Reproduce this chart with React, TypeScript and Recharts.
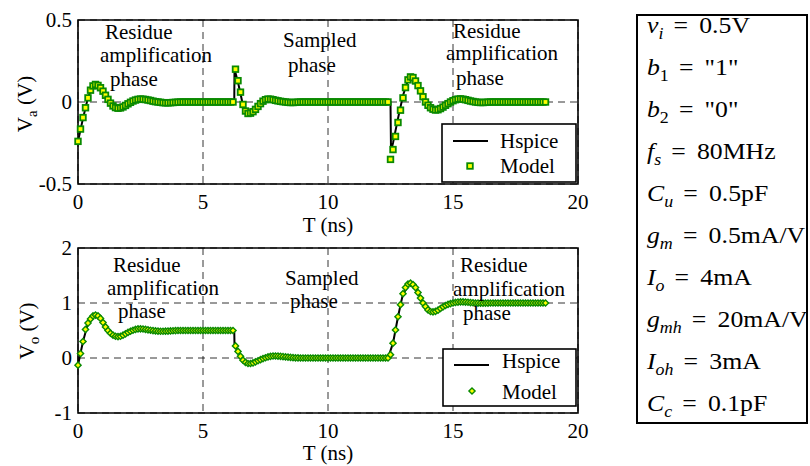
import React from 'react';
import { CartesianGrid, ComposedChart, Line, ReferenceArea, Scatter, XAxis, YAxis } from 'recharts';

const GREEN = '#0a8a00';
const YELLOW = '#ffff00';
const FONT = '"Liberation Serif", "Times New Roman", serif';

// model samples every 0.1 ns from t = 0 to 18.7 ns
const T_STEP = 0.1;

const VA_MODEL = [
  -0.24, -0.165, -0.095, -0.035, 0.025, 0.072, 0.098, 0.107, 0.101, 0.087,
  0.066, 0.041, 0.016, -0.007, -0.024, -0.034, -0.038, -0.036, -0.03, -0.021,
  -0.011, -0.002, 0.006, 0.012, 0.016, 0.018, 0.017, 0.015, 0.012, 0.009,
  0.005, 0.002, 0, -0.002, -0.004, -0.005, -0.005, -0.004, -0.003, -0.002,
  -0.001, 0, 0, 0, 0, 0, 0, 0, 0, 0,
  0, 0, 0, 0, 0, 0, 0, 0, 0, 0,
  0, 0, 0,
  0.2, 0.13, 0.06, -0.015, -0.055, -0.07, -0.068, -0.059, -0.045, -0.027,
  -0.01, 0.005, 0.014, 0.018, 0.017, 0.014, 0.01, 0.007, 0.004, 0.002,
  0, -0.002, -0.003, -0.003, -0.002, -0.001, 0, 0, 0, 0,
  0, 0, 0, 0, 0, 0, 0, 0, 0, 0,
  0, 0, 0, 0, 0, 0, 0, 0, 0, 0,
  0, 0, 0, 0, 0, 0, 0, 0, 0, 0,
  0, 0,
  -0.35, -0.29, -0.21, -0.125, -0.05, 0.025, 0.088, 0.135, 0.153, 0.149,
  0.128, 0.1, 0.068, 0.032, 0, -0.02, -0.035, -0.044, -0.049, -0.047,
  -0.04, -0.031, -0.02, -0.01, 0, 0.008, 0.014, 0.018, 0.019, 0.017,
  0.014, 0.01, 0.006, 0.003, 0, -0.002, -0.003, -0.003, -0.002, -0.001,
  0, 0, 0, 0, 0, 0, 0, 0, 0, 0,
  0, 0, 0, 0, 0, 0, 0, 0, 0, 0,
  0, 0, 0,
];

const VO_MODEL = [
  -0.13, 0.08, 0.3, 0.52, 0.635, 0.71, 0.765, 0.78, 0.765, 0.72,
  0.645, 0.565, 0.5, 0.45, 0.415, 0.395, 0.39, 0.395, 0.415, 0.44,
  0.465, 0.487, 0.505, 0.52, 0.528, 0.53, 0.527, 0.52, 0.512, 0.505,
  0.498, 0.492, 0.488, 0.486, 0.486, 0.488, 0.49, 0.493, 0.496, 0.498,
  0.5, 0.5, 0.5, 0.5, 0.5, 0.5, 0.5, 0.5, 0.5, 0.5,
  0.5, 0.5, 0.5, 0.5, 0.5, 0.5, 0.5, 0.5, 0.5, 0.5,
  0.5, 0.5, 0.5,
  0.22, 0.12, 0.03, -0.04, -0.08, -0.1, -0.1, -0.09, -0.07, -0.05,
  -0.03, -0.01, 0.005, 0.02, 0.03, 0.036, 0.036, 0.034, 0.03, 0.025,
  0.02, 0.015, 0.01, 0.006, 0.003, 0.001, 0, 0, 0, 0,
  0, 0, 0, 0, 0, 0, 0, 0, 0, 0,
  0, 0, 0, 0, 0, 0, 0, 0, 0, 0,
  0, 0, 0, 0, 0, 0, 0, 0, 0, 0,
  0, 0,
  0.06, 0.27, 0.51, 0.75, 0.97, 1.17, 1.28, 1.345, 1.36, 1.335,
  1.28, 1.19, 1.09, 1.0, 0.935, 0.875, 0.845, 0.84, 0.848, 0.87,
  0.9, 0.93, 0.955, 0.975, 0.99, 1.0, 1.01, 1.017, 1.02, 1.02,
  1.017, 1.013, 1.008, 1.004, 1.0, 0.998, 0.997, 0.997, 0.998, 0.999,
  1, 1, 1, 1, 1, 1, 1, 1, 1, 1,
  1, 1, 1, 1, 1, 1, 1, 1, 1, 1,
  1, 1, 1,
];

const HSPICE_A_T = [
  0, 0.2, 0.4, 0.6, 0.7, 0.8, 1.0, 1.2, 1.4, 1.6,
  1.8, 2.0, 2.2, 2.5, 2.8, 3.2, 3.6, 4.1, 6.25, 6.26,
  6.4, 6.6, 6.8, 7.0, 7.3, 7.6, 8.0, 8.5, 9.0, 12.5,
  12.52, 12.6, 12.8, 13.0, 13.2, 13.3, 13.5, 13.7, 13.9, 14.3,
  14.6, 14.9, 15.3, 15.6, 16.1, 16.5, 18.7,
];
const HSPICE_A_V = [
  -0.24, -0.1, 0.028, 0.098, 0.107, 0.1, 0.066, 0.016, -0.024, -0.038,
  -0.03, -0.011, 0.006, 0.018, 0.012, 0, -0.005, 0, 0, 0.2,
  0.12, -0.02, -0.07, -0.06, -0.01, 0.018, 0.007, -0.003, 0, 0,
  -0.3, -0.25, -0.1, 0.04, 0.135, 0.153, 0.128, 0.068, 0, -0.049,
  -0.031, 0, 0.019, 0.01, -0.003, 0, 0,
];

const HSPICE_O_T = [
  0, 0.2, 0.4, 0.7, 0.9, 1.1, 1.3, 1.6, 1.9, 2.2,
  2.5, 2.9, 3.4, 4.0, 6.25, 6.26, 6.4, 6.6, 6.85, 7.1,
  7.4, 7.8, 8.3, 8.8, 12.4, 12.6, 12.8, 13.0, 13.3, 13.5,
  13.8, 14.2, 14.6, 15.0, 15.3, 15.9, 18.7,
];
const HSPICE_O_V = [
  -0.13, 0.3, 0.63, 0.78, 0.72, 0.565, 0.45, 0.39, 0.44, 0.505,
  0.53, 0.505, 0.486, 0.5, 0.5, 0.24, 0.12, -0.04, -0.1, -0.07,
  -0.01, 0.036, 0.02, 0, 0, 0.27, 0.75, 1.17, 1.36, 1.28,
  1.0, 0.84, 0.93, 1.0, 1.02, 1.0, 1.0,
];

const X_TICKS = [0, 5, 10, 15, 20];
const VA_TICKS = [-0.5, 0, 0.5];
const VO_TICKS = [-1, 0, 1, 2];

const PARAMS = [
  { sym: 'v', sub: 'i', value: '0.5V' },
  { sym: 'b', sub: '1', value: '"1"' },
  { sym: 'b', sub: '2', value: '"0"' },
  { sym: 'f', sub: 's', value: '80MHz' },
  { sym: 'C', sub: 'u', value: '0.5pF' },
  { sym: 'g', sub: 'm', value: '0.5mA/V' },
  { sym: 'I', sub: 'o', value: '4mA' },
  { sym: 'g', sub: 'mh', value: '20mA/V' },
  { sym: 'I', sub: 'oh', value: '3mA' },
  { sym: 'C', sub: 'c', value: '0.1pF' },
];

const modelA = VA_MODEL.map((v, i) => ({ t: +(i * T_STEP).toFixed(2), v }));
const modelO = VO_MODEL.map((v, i) => ({ t: +(i * T_STEP).toFixed(2), v }));
const hspiceA = HSPICE_A_T.map((t, i) => ({ t, v: HSPICE_A_V[i] }));
const hspiceO = HSPICE_O_T.map((t, i) => ({ t, v: HSPICE_O_V[i] }));

const SQ = 5.6;
const SquareDot = (p: any) => (
  <rect x={p.cx - SQ / 2} y={p.cy - SQ / 2} width={SQ} height={SQ} fill={YELLOW} stroke={GREEN} strokeWidth={1.8} />
);

const DR = 3.1;
const DiamondDot = (p: any) => (
  <polygon
    points={`${p.cx},${p.cy - DR} ${p.cx + DR},${p.cy} ${p.cx},${p.cy + DR} ${p.cx - DR},${p.cy}`}
    fill={YELLOW}
    stroke={GREEN}
    strokeWidth={1.4}
  />
);

const tickStyle = { fill: '#000', fontSize: 21, fontFamily: FONT };

function Panel({ top, height, mTop, mBottom, domain, ticks, model, hspice, shape }: any) {
  return (
    <div style={{ position: 'absolute', left: 0, top }}>
      <ComposedChart width={600} height={height} margin={{ top: mTop, right: 22, bottom: mBottom, left: 38 }}>
        <CartesianGrid stroke="#000" strokeDasharray="7 5" strokeWidth={0.8} />
        <XAxis
          type="number"
          dataKey="t"
          domain={[0, 20]}
          ticks={X_TICKS}
          height={30}
          axisLine={false}
          tickLine={false}
          tickSize={0}
          tickMargin={10}
          tick={tickStyle}
        />
        <YAxis
          type="number"
          dataKey="v"
          domain={domain}
          ticks={ticks}
          width={40}
          axisLine={false}
          tickLine={false}
          tickSize={0}
          tickMargin={6}
          tick={tickStyle}
        />
        <ReferenceArea x1={0} x2={20} y1={domain[0]} y2={domain[1]} fill="none" stroke="#000" strokeWidth={1.6} />
        <Line data={hspice} dataKey="v" type="linear" stroke="#000" strokeWidth={2} dot={false} isAnimationActive={false} />
        <Scatter data={model} dataKey="v" shape={shape} isAnimationActive={false} />
      </ComposedChart>
    </div>
  );
}

function Words({ x, y, lines }: { x: number[]; y: number[]; lines: string[] }) {
  return (
    <>
      {lines.map((s, i) => (
        <text key={i} x={x[i]} y={y[i]}>
          {s}
        </text>
      ))}
    </>
  );
}

function LegendBox({ x, y, w, h, lineY, markY, textX, hBase, mBase, marker }: any) {
  return (
    <g>
      <rect x={x} y={y} width={w} height={h} fill="#fff" stroke="#000" strokeWidth={1.6} />
      <line x1={x + 11} x2={x + 46} y1={lineY} y2={lineY} stroke="#000" strokeWidth={2} />
      <text x={textX} y={hBase}>Hspice</text>
      {marker === 'square' ? (
        <rect x={x + 28 - SQ / 2} y={markY - SQ / 2} width={SQ} height={SQ} fill={YELLOW} stroke={GREEN} strokeWidth={1.8} />
      ) : (
        <polygon
          points={`${x + 29},${markY - DR} ${x + 29 + DR},${markY} ${x + 29},${markY + DR} ${x + 29 - DR},${markY}`}
          fill={YELLOW}
          stroke={GREEN}
          strokeWidth={1.4}
        />
      )}
      <text x={textX} y={mBase}>Model</text>
    </g>
  );
}

export default function App() {
  return (
    <div style={{ position: 'absolute', left: 0, top: 0, width: 810, height: 466, background: '#fff', overflow: 'hidden' }}>
      <Panel top={0} height={230} mTop={20} mBottom={16} domain={[-0.5, 0.5]} ticks={VA_TICKS} model={modelA} hspice={hspiceA} shape={SquareDot} />
      <Panel top={230} height={236} mTop={18} mBottom={23} domain={[-1, 2]} ticks={VO_TICKS} model={modelO} hspice={hspiceO} shape={DiamondDot} />

      <svg width={810} height={466} style={{ position: 'absolute', left: 0, top: 0, pointerEvents: 'none' }} fontFamily={FONT} fontSize={21} fill="#000">
        {/* phase notes, top panel */}
        <Words x={[105, 100, 110]} y={[39, 62, 86]} lines={['Residue', 'amplification', 'phase']} />
        <Words x={[283, 288]} y={[47, 72]} lines={['Sampled', 'phase']} />
        <Words x={[453, 446, 456]} y={[38, 60, 85]} lines={['Residue', 'amplification', 'phase']} />
        {/* phase notes, bottom panel */}
        <Words x={[113, 107, 118]} y={[272, 295, 318]} lines={['Residue', 'amplification', 'phase']} />
        <Words x={[285, 290]} y={[285, 308]} lines={['Sampled', 'phase']} />
        <Words x={[460, 453, 463]} y={[272, 296, 320]} lines={['Residue', 'amplification', 'phase']} />

        {/* axis titles */}
        <text x={328} y={232} textAnchor="middle">T (ns)</text>
        <text x={328} y={460} textAnchor="middle">T (ns)</text>
        <text transform="translate(32,104) rotate(-90)" textAnchor="middle">
          V<tspan fontSize={15} dy={5}>a</tspan>
          <tspan dy={-5}> (V)</tspan>
        </text>
        <text transform="translate(34,331) rotate(-90)" textAnchor="middle">
          V<tspan fontSize={15} dy={5}>o</tspan>
          <tspan dy={-5}> (V)</tspan>
        </text>

        <LegendBox x={442} y={124} w={134} h={58} lineY={141} markY={166} textX={500} hBase={148} mBase={173} marker="square" />
        <LegendBox x={443} y={349} w={133} h={57} lineY={365} markY={391} textX={502} hBase={368} mBase={399} marker="diamond" />

        {/* parameter list, drawn a little wide like the source figure */}
        <g fontSize={23} transform="translate(647,0) scale(1.12,1) translate(-647,0)">
          {PARAMS.map((p, i) => {
            const base = 33 + 42 * i;
            const digitSub = /^[0-9]+$/.test(p.sub);
            return (
              <text key={p.sym + p.sub} x={647} y={base}>
                <tspan fontStyle="italic">{p.sym}</tspan>
                <tspan fontSize={16} dy={6} fontStyle={digitSub ? 'normal' : 'italic'}>{p.sub}</tspan>
                <tspan dy={-6} dx={9}>=</tspan>
                <tspan dx={10}>{p.value}</tspan>
              </text>
            );
          })}
        </g>
        <rect x={637} y={15} width={170} height={408} fill="none" stroke="#000" strokeWidth={2} />
      </svg>
    </div>
  );
}
